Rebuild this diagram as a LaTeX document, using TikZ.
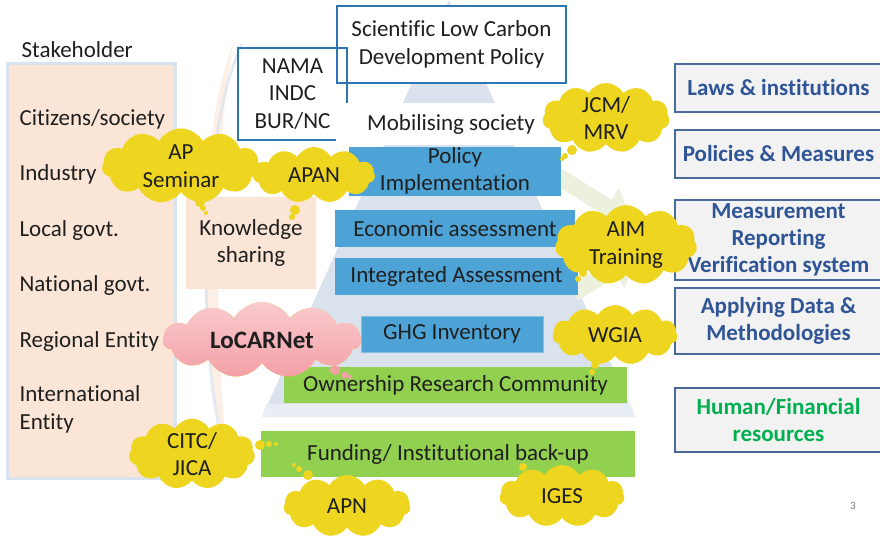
\documentclass[tikz,border=0pt]{standalone}
\usepackage{fontspec}
\setmainfont[Ligatures=NoCommon]{Carlito}
\usetikzlibrary{shapes.symbols,arrows.meta,positioning}

\definecolor{peach}{HTML}{FBE5D6}
\definecolor{frameblue}{HTML}{D9E3EF}
\definecolor{pyramid}{HTML}{DAE3ED}
\definecolor{stageblue}{HTML}{4DA3D5}
\definecolor{stagegreen}{HTML}{92D050}
\definecolor{cloudyellow}{HTML}{EDD520}
\definecolor{cloudpink}{HTML}{F4A0A7}
\definecolor{boxblue}{HTML}{2E75B6}
\definecolor{goalframe}{HTML}{4A6A9B}
\definecolor{goaltext}{HTML}{2F5597}
\definecolor{goalgreen}{HTML}{00B050}
\definecolor{arrowgreen}{HTML}{EBF1DE}

\begin{document}
\begin{tikzpicture}[x=1pt, y=-1pt,
  every node/.style={font=\fontsize{23}{27.5}\selectfont, text=black!88, align=center},
  stage/.style={fill=stageblue, inner sep=0pt},
  ground/.style={fill=stagegreen, inner sep=0pt},
  blob/.style={cloud, cloud puffs=11, cloud puff arc=120, cloud ignores aspect,
    fill=cloudyellow, inner sep=0pt},
  goal/.style={draw=goalframe, line width=1.8pt, fill=black!5, minimum width=207,
    inner sep=0pt, font=\fontsize{23}{27}\selectfont\bfseries, text=goaltext},
  outline/.style={draw=boxblue, line width=1.4pt, inner sep=0pt}]
\clip (0,0) rectangle (880,538);

  % stakeholders
  \node[anchor=west] (who) at (18,50) {Stakeholder};
  \draw[frameblue, line width=3pt, fill=peach] (7,63) rectangle (175,478);
  \foreach \who [count=\i] in {{Citizens/society},Industry,{Local govt.},{National govt.},{Regional Entity}} {
    \node[anchor=west] (s\i) at (16,{119+55.5*(\i-1)}) {\who};
  }
  \node[anchor=west, align=left] (s6) at (16,409.5) {International\\Entity};

  % faint lens behind the middle
  \fill[peach, opacity=0.6] (234,42) .. controls (196,130) and (196,360) .. (228,458)
    .. controls (214,360) and (214,130) .. (234,42);
  \draw[frameblue, line width=3pt, opacity=0.7] (242,44) .. controls (200,130) and (196,360) .. (226,455);

  % pyramid and its arrows
  \fill[pyramid] (449,0) -- (635,417) -- (262,417) -- cycle;
  \fill[pyramid!60] (266,404) -- (631,404) -- (635,417) -- (262,417) -- cycle;
  \draw[arrowgreen, line width=17pt, -{Triangle[width=42pt,length=32pt]}] (556,175) -- (634,224);
  \draw[arrowgreen, line width=17pt, -{Triangle[width=42pt,length=32pt]}] (574,293) -- (640,252);

  \node[fill=peach, minimum width=130, minimum height=92] (share) at (251,243) {Knowledge\\sharing};

  % policy boxes on top
  \node[outline, fill=white, minimum width=229, minimum height=77] (policy) at (451.5,44.5)
    {Scientific Low Carbon\\Development Policy};
  \node[outline, minimum width=109, minimum height=92] (nama) at (292.5,94) {NAMA\\INDC\\BUR/NC};
  \node[fill=white, minimum width=230, minimum height=42] (mob) at (451,124) {Mobilising society};

  % stages of the pyramid
  \node[stage, minimum width=212, minimum height=49] (impl) at (455,171) {Policy\\Implementation};
  \node[stage, minimum width=240, minimum height=37] (econ) at (455,228.5) {Economic assessment};
  \node[stage, minimum width=243, minimum height=37] (integ) at (456.5,276.5) {Integrated Assessment};
  \node[stage, draw=stageblue!70!white, minimum width=182, minimum height=36] (ghg) at (452,334) {GHG Inventory};
  \node[ground, minimum width=343, minimum height=36] (own) at (455.5,385) {Ownership Research Community};
  \node[ground, minimum width=374, minimum height=46] (fund) at (448,454) {Funding/ Institutional back-up};

  % outcomes
  \node[goal, minimum height=48] (laws) at (778.5,88) {Laws \& institutions};
  \node[goal, minimum height=48] (pam) at (778.5,154) {Policies \& Measures};
  \node[goal, minimum height=80] (mrv) at (778.5,240) {Measurement\\Reporting\\Verification system};
  \node[goal, minimum height=66] (data) at (778.5,321) {Applying Data \&\\Methodologies};
  \node[goal, minimum height=64, text=goalgreen] (money) at (778.5,420) {Human/Financial\\resources};

  % programmes
  \node[blob, minimum width=158, minimum height=58] (apsem) at (181,166) {AP\\Seminar};
  \fill[cloudyellow] (200,202) circle (5) (203,208) circle (3) (206,213) circle (2);
  \node[blob, minimum width=122, minimum height=56] (apan) at (314,175) {APAN};
  \fill[cloudyellow] (295,210) circle (5) (292,217) circle (3);
  \node[blob, minimum width=127, minimum height=65] (jcm) at (606,118) {JCM/\\MRV};
  \fill[cloudyellow] (572,150) circle (5) (565,156) circle (3) (562,159) circle (2);
  \node[blob, minimum width=142, minimum height=64] (aim) at (626,245) {AIM\\Training};
  \fill[cloudyellow] (583,273) circle (4) (578,279) circle (3);
  \node[blob, minimum width=125, minimum height=60] (wgia) at (615,335) {WGIA};
  \fill[cloudyellow] (595,365) circle (4) (592,372) circle (3);
  \node[blob, top color=cloudpink!55, bottom color=cloudpink, minimum width=198, minimum height=76,
    font=\fontsize{25}{28}\selectfont\bfseries] (locar) at (262,340) {LoCARNet};
  \fill[cloudpink] (335,370) circle (5) (345,375) circle (3.5) (350,377) circle (2);
  \node[blob, minimum width=126, minimum height=62] (citc) at (192,454) {CITC/\\JICA};
  \fill[cloudyellow] (260,445) circle (5) (269,444) circle (3) (276,444) circle (2);
  \node[blob, minimum width=127, minimum height=62] (apn) at (347,506) {APN};
  \fill[cloudyellow] (308,475) circle (5) (299,469) circle (3) (294,465) circle (2);
  \node[blob, minimum width=125, minimum height=62] (iges) at (562,496) {IGES};
  \fill[cloudyellow] (523,467) circle (4);

  \node[font=\fontsize{11}{13}\selectfont, text=black!50] (page) at (853,506) {3};
\end{tikzpicture}
\end{document}
